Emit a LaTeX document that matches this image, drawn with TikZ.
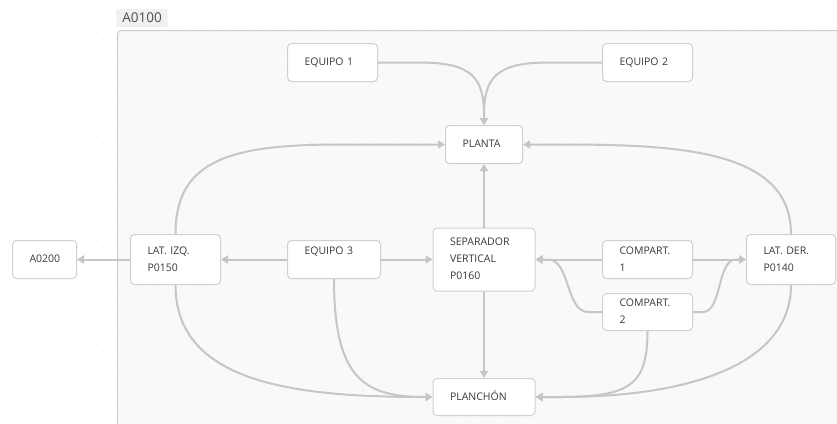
\documentclass[tikz,border=0pt]{standalone}
\usepackage{fontspec}
\setmainfont{Open Sans}
\usetikzlibrary{arrows.meta}

\definecolor{edgec}{HTML}{C6C6C6}
\definecolor{boxc}{HTML}{D0D0D0}
\definecolor{framec}{HTML}{CCCCCC}
\definecolor{framebg}{HTML}{F9F9F9}
\definecolor{dotc}{HTML}{E4E4E4}
\definecolor{textc}{HTML}{3A3A3A}
\definecolor{tagbg}{HTML}{F0F0F0}

\begin{document}
\begin{tikzpicture}[x=1pt,y=-1pt,
  box/.style={draw=boxc, fill=white, line width=1pt, rounded corners=4pt,
    inner xsep=17pt, inner ysep=0pt, align=left, anchor=center,
    font=\fontsize{10.5}{17}\selectfont, text=textc},
  edge/.style={draw=edgec, line width=2pt,
    -{Triangle[length=7pt,width=8pt]}},
  tag/.style={fill=tagbg, rounded corners=2pt, inner xsep=6pt, inner ysep=0pt,
    minimum height=18pt, font=\fontsize{13.5}{16}\selectfont, text=textc!90}]

% page area
\useasboundingbox (0,0) rectangle (837,423);
\fill[white] (0,0) rectangle (837,423);

% group frame A0100
\path[draw=framec, fill=framebg, line width=1pt, rounded corners=4pt]
  (117.5,30.5) rectangle (880,460);

% dotted canvas grid
\foreach \i in {0,...,64}
  \foreach \j in {0,...,32}
    \fill[dotc] (12.3+13*\i, 0.3+13*\j) circle (0.6);

\node[tag] (grp) at (142,18) {A0100};

% activity boxes
\node[box, text width=56pt, minimum height=38pt] (e1) at (332.5,62.5) {\strut EQUIPO 1};
\node[box, text width=56pt, minimum height=38pt] (e2) at (647.5,62.5) {\strut EQUIPO 2};
\node[box, text width=43pt, minimum height=38pt] (planta) at (484,144.5) {\strut PLANTA};
\node[box, text width=30pt, minimum height=38pt] (a0200) at (44.5,259.5) {\strut A0200};
\node[box, text width=56pt, minimum height=50pt] (latizq) at (175.5,259.5) {\strut LAT. IZQ.\\\strut P0150};
\node[box, text width=59pt, minimum height=38pt] (e3) at (334,259.5) {\strut EQUIPO 3\\\strut};
\node[box, text width=68pt, minimum height=63pt] (sep) at (484,259.5) {\strut SEPARADOR\\\strut VERTICAL\\\strut P0160};
\node[box, text width=56pt, minimum height=38pt] (c1) at (647.5,259.5) {\strut COMPART.\\\strut 1};
\node[box, text width=56pt, minimum height=37pt] (c2) at (647.5,312) {\strut COMPART.\\\strut 2};
\node[box, text width=55pt, minimum height=50pt] (latder) at (791,259.5) {\strut LAT. DER.\\\strut P0140};
\node[box, text width=68pt, minimum height=37pt] (planchon) at (484,397) {\strut PLANCHÓN};

% flows into PLANTA
\draw[edge] (e1.east) -- (420,62.5) .. controls (472,62.5) and (484,78) .. (484,115) -- (planta.north);
\draw[edge] (e2.west) -- (548,62.5) .. controls (496,62.5) and (484,78) .. (484,115) -- (planta.north);
\draw[edge] (latizq.north) .. controls (175.5,160) and (230,144.5) .. (340,144.5) -- (planta.west);
\draw[edge] (latder.north) .. controls (791,150) and (680,144.5) .. (560,144.5) -- (planta.east);
\draw[edge] (sep.north) -- (planta.south);

% middle row
\draw[edge] (e3.west) -- (latizq.east);
\draw[edge] (latizq.west) -- (a0200.east);
\draw[edge] (e3.east) -- (sep.west);
\draw[edge] (c1.west) -- (sep.east);
\draw[edge] (c2.west) -- (588,312) .. controls (566,312) and (570,259.5) .. (548,259.5) -- (sep.east);
\draw[edge] (c1.east) -- (latder.west);
\draw[edge] (c2.east) -- (703,312) .. controls (722,312) and (717,259.5) .. (736,259.5) -- (latder.west);

% flows into PLANCHÓN
\draw[edge] (sep.south) -- (planchon.north);
\draw[edge] (latizq.south) .. controls (175.5,385) and (300,397) .. (planchon.west);
\draw[edge] (e3.south) .. controls (334,380) and (365,397) .. (planchon.west);
\draw[edge] (c2.south) .. controls (647.5,385) and (630,397) .. (560,397) -- (planchon.east);
\draw[edge] (latder.south) .. controls (791,360) and (700,397) .. (560,397) -- (planchon.east);
\end{tikzpicture}
\end{document}
